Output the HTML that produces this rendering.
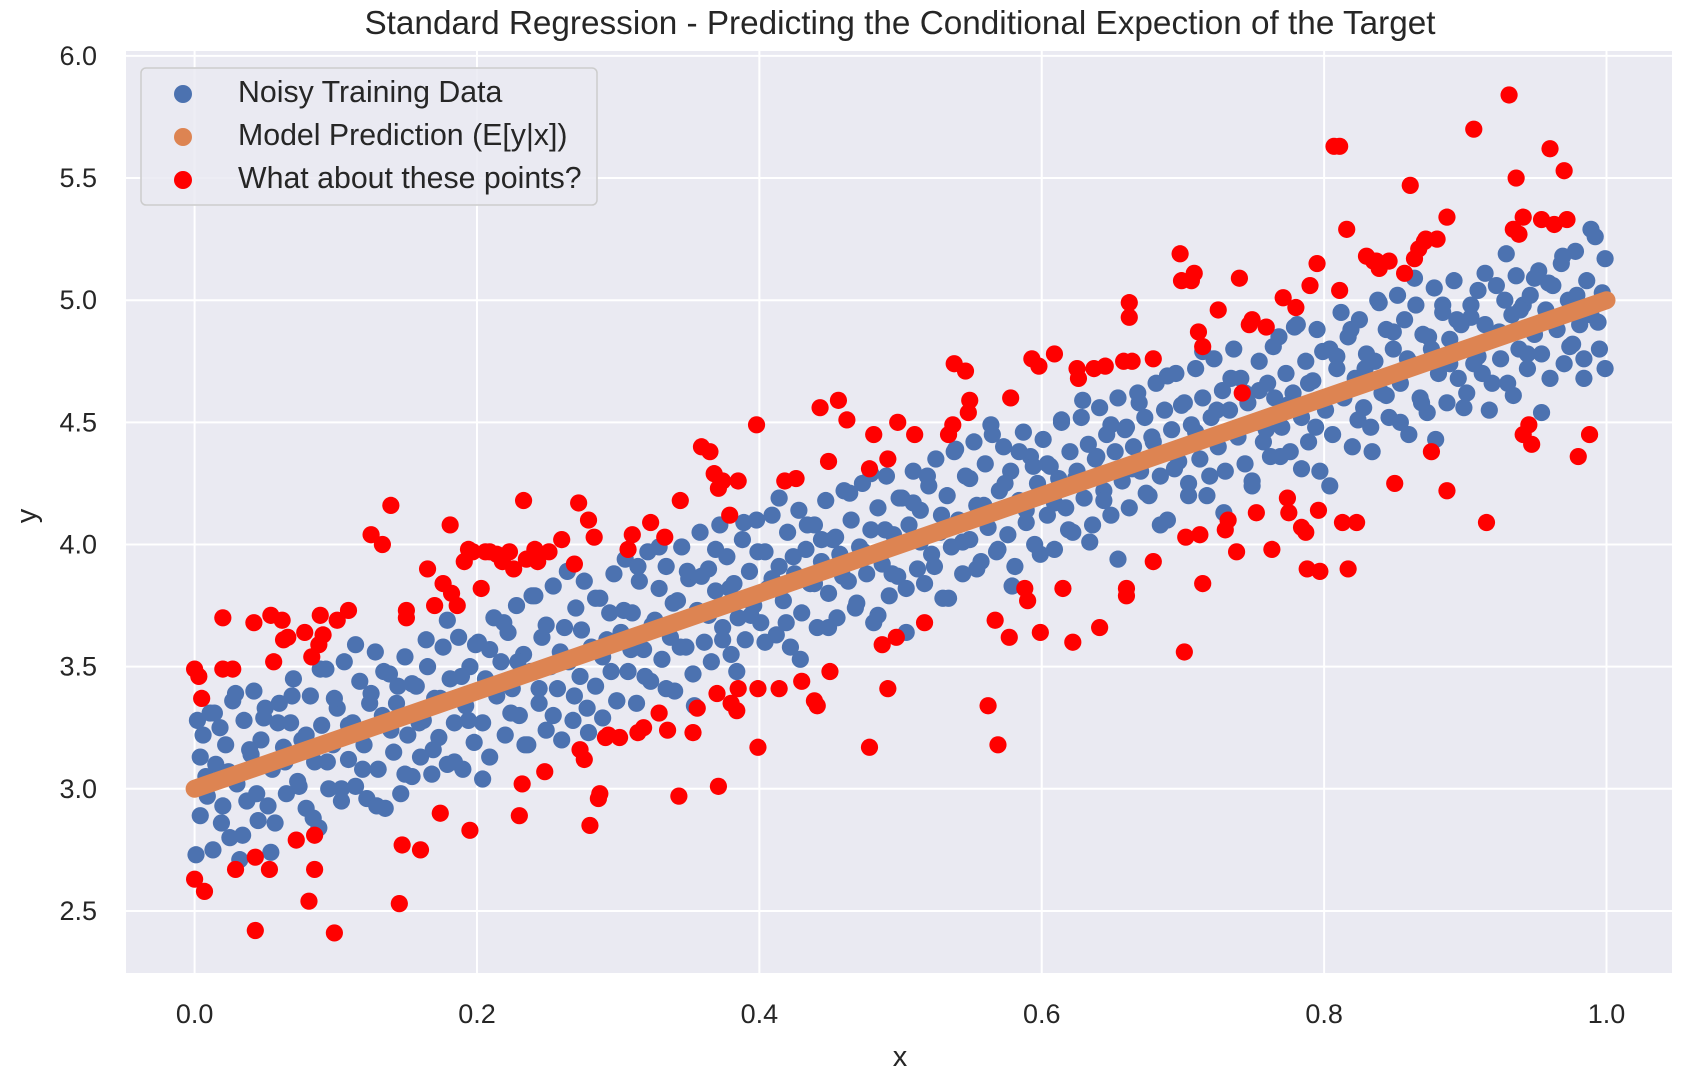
<!DOCTYPE html>
<html><head><meta charset="utf-8"><style>
html,body{margin:0;padding:0;background:#fff;}
svg{display:block;font-family:"Liberation Sans",Arial,sans-serif;}
</style></head><body>
<svg id="chart" width="1686" height="1084" viewBox="0 0 1686 1084" xmlns="http://www.w3.org/2000/svg">
<rect x="126" y="51" width="1546" height="922" fill="#eaeaf2"/>
<g id="grid"></g>
<g id="ticks"></g>
<g id="marks"></g>
<text x="900" y="34" font-size="33.3" text-anchor="middle" fill="#262626">Standard Regression - Predicting the Conditional Expection of the Target</text>
<text x="900" y="1066" font-size="29" text-anchor="middle" fill="#262626">x</text>
<text x="0" y="0" font-size="29" text-anchor="middle" fill="#262626" transform="translate(36,516) rotate(-90)">y</text>
<g>
<rect x="141" y="68" width="456" height="137" rx="5" fill="#eaeaf2" fill-opacity="0.85" stroke="#cccccc" stroke-width="1.5"/>
<circle cx="183" cy="94" r="9" fill="#4c72b0"/>
<text x="238" y="102" font-size="30.3" fill="#262626">Noisy Training Data</text>
<circle cx="183" cy="137" r="9" fill="#dd8452"/>
<text x="238" y="145" font-size="30.3" fill="#262626">Model Prediction (E[y|x])</text>
<circle cx="183" cy="180" r="9" fill="#ff0000"/>
<text x="238" y="188" font-size="30.3" fill="#262626">What about these points?</text>
</g>
</svg>
<script>
const xTicks = [0.0, 0.2, 0.4, 0.6, 0.8, 1.0];
const xTickLabels = ["0.0", "0.2", "0.4", "0.6", "0.8", "1.0"];
const yTicks = [2.5, 3.0, 3.5, 4.0, 4.5, 5.0, 5.5, 6.0];
const yTickLabels = ["2.5", "3.0", "3.5", "4.0", "4.5", "5.0", "5.5", "6.0"];
const modelIntercept = 3.0;
const modelSlope = 2.0;
const predXRange = [0.0, 1.0];
const blue = [[0.001,2.73],[0.002,3.28],[0.004,2.89],[0.006,3.22],[0.008,3.05],[0.011,3.31],[0.013,2.75],[0.015,3.10],[0.018,3.25],[0.020,2.93],[0.022,3.18],[0.025,2.80],[0.027,3.36],[0.030,3.02],[0.032,2.71],[0.035,3.28],[0.037,2.95],[0.040,3.14],[0.042,3.40],[0.045,2.87],[0.047,3.20],[0.050,3.33],[0.052,2.93],[0.055,3.08],[0.057,2.86],[0.060,3.35],[0.063,3.17],[0.065,2.98],[0.068,3.27],[0.070,3.45],[0.073,3.03],[0.076,3.20],[0.079,2.92],[0.082,3.38],[0.085,3.11],[0.088,2.84],[0.090,3.26],[0.093,3.49],[0.095,3.00],[0.098,3.18],
[0.101,3.33],[0.104,2.95],[0.106,3.52],[0.109,3.12],[0.112,3.27],[0.114,3.01],[0.117,3.44],[0.120,3.18],[0.122,2.96],[0.125,3.39],[0.128,3.56],[0.130,3.08],[0.133,3.30],[0.135,2.92],[0.138,3.47],[0.141,3.15],[0.143,3.35],[0.146,2.98],[0.149,3.54],[0.151,3.22],[0.154,3.05],[0.157,3.42],[0.160,3.13],[0.162,3.28],[0.165,3.50],[0.168,3.06],[0.170,3.37],[0.173,3.21],[0.176,3.58],[0.179,3.10],[0.181,3.45],[0.184,3.27],[0.187,3.62],[0.190,3.08],[0.192,3.34],[0.195,3.50],[0.198,3.19],
[0.201,3.60],[0.204,3.27],[0.206,3.45],[0.209,3.13],[0.212,3.70],[0.214,3.38],[0.217,3.52],[0.220,3.22],[0.222,3.64],[0.225,3.41],[0.228,3.75],[0.230,3.30],[0.233,3.55],[0.236,3.18],[0.238,3.48],[0.241,3.79],[0.244,3.35],[0.246,3.62],[0.249,3.24],[0.252,3.50],[0.254,3.83],[0.257,3.41],[0.260,3.20],[0.262,3.66],[0.265,3.52],[0.268,3.28],[0.270,3.74],[0.273,3.46],[0.276,3.85],[0.278,3.33],[0.281,3.58],[0.284,3.42],[0.287,3.78],[0.289,3.29],[0.292,3.61],[0.295,3.48],[0.297,3.88],[0.299,3.36],
[0.302,3.64],[0.305,3.94],[0.307,3.48],[0.310,3.72],[0.313,3.35],[0.315,3.85],[0.318,3.57],[0.321,3.97],[0.323,3.44],[0.326,3.69],[0.329,3.82],[0.331,3.53],[0.334,3.91],[0.337,3.62],[0.340,3.40],[0.342,3.77],[0.345,3.99],[0.348,3.58],[0.350,3.86],[0.353,3.47],[0.356,3.73],[0.358,4.05],[0.361,3.60],[0.364,3.90],[0.366,3.52],[0.369,3.81],[0.372,4.08],[0.374,3.66],[0.377,3.95],[0.380,3.55],[0.382,3.84],[0.385,3.70],[0.388,4.02],[0.390,3.61],[0.393,3.89],[0.396,3.75],[0.398,4.10],
[0.401,3.68],[0.404,3.97],[0.406,3.82],[0.409,4.12],[0.412,3.63],[0.414,3.91],[0.417,3.77],[0.420,4.05],[0.422,3.58],[0.425,3.88],[0.428,4.14],[0.430,3.72],[0.433,3.98],[0.436,3.84],[0.439,4.08],[0.441,3.66],[0.444,3.93],[0.447,4.18],[0.449,3.80],[0.452,4.02],[0.455,3.70],[0.457,3.96],[0.460,4.22],[0.463,3.85],[0.465,4.10],[0.468,3.74],[0.471,3.99],[0.473,4.25],[0.476,3.88],[0.479,4.06],[0.481,3.68],[0.484,4.15],[0.487,3.92],[0.490,4.28],[0.492,3.79],[0.495,4.04],[0.498,3.87],
[0.501,4.19],[0.504,3.82],[0.506,4.08],[0.509,4.30],[0.512,3.90],[0.514,4.14],[0.517,3.84],[0.520,4.24],[0.522,3.96],[0.525,4.35],[0.528,4.05],[0.530,3.78],[0.533,4.20],[0.536,3.99],[0.538,4.38],[0.541,4.10],[0.544,3.88],[0.546,4.28],[0.549,4.02],[0.552,4.42],[0.554,4.16],[0.557,3.93],[0.560,4.33],[0.562,4.07],[0.565,4.45],[0.568,3.97],[0.570,4.22],[0.573,4.40],[0.576,4.04],[0.578,4.30],[0.581,3.91],[0.584,4.18],[0.587,4.46],[0.589,4.09],[0.592,4.36],[0.595,4.00],[0.597,4.25],
[0.601,4.43],[0.604,4.12],[0.606,4.32],[0.609,3.98],[0.612,4.27],[0.614,4.50],[0.617,4.15],[0.620,4.38],[0.622,4.05],[0.625,4.30],[0.628,4.52],[0.630,4.19],[0.633,4.41],[0.636,4.08],[0.638,4.35],[0.641,4.56],[0.644,4.22],[0.646,4.45],[0.649,4.12],[0.652,4.38],[0.654,4.60],[0.657,4.26],[0.660,4.48],[0.662,4.15],[0.665,4.40],[0.668,4.62],[0.670,4.30],[0.673,4.52],[0.676,4.20],[0.678,4.44],[0.681,4.66],[0.684,4.28],[0.687,4.55],[0.689,4.10],[0.692,4.47],[0.695,4.70],[0.697,4.34],
[0.701,4.58],[0.704,4.25],[0.706,4.49],[0.709,4.72],[0.712,4.35],[0.714,4.60],[0.717,4.20],[0.720,4.52],[0.722,4.76],[0.725,4.40],[0.728,4.63],[0.730,4.30],[0.733,4.55],[0.736,4.80],[0.738,4.45],[0.741,4.68],[0.744,4.33],[0.746,4.58],[0.749,4.24],[0.752,4.50],[0.754,4.75],[0.757,4.42],[0.760,4.66],[0.762,4.36],[0.765,4.60],[0.768,4.85],[0.770,4.48],[0.773,4.70],[0.776,4.38],[0.778,4.62],[0.781,4.90],[0.784,4.52],[0.787,4.75],[0.789,4.42],[0.792,4.67],[0.795,4.88],[0.797,4.30],
[0.801,4.55],[0.804,4.80],[0.806,4.45],[0.809,4.72],[0.812,4.95],[0.814,4.60],[0.817,4.85],[0.820,4.40],[0.822,4.68],[0.825,4.92],[0.828,4.56],[0.830,4.78],[0.833,4.48],[0.836,4.75],[0.838,5.00],[0.841,4.62],[0.844,4.88],[0.846,4.52],[0.849,4.80],[0.852,5.02],[0.854,4.66],[0.857,4.92],[0.860,4.45],[0.862,4.74],[0.865,4.98],[0.868,4.60],[0.870,4.86],[0.873,4.54],[0.876,4.80],[0.878,5.05],[0.881,4.70],[0.884,4.95],[0.887,4.58],[0.889,4.84],[0.892,5.08],[0.895,4.68],[0.897,4.90],
[0.901,4.62],[0.904,4.98],[0.906,4.74],[0.909,5.04],[0.912,4.70],[0.914,4.90],[0.917,4.55],[0.920,4.84],[0.922,5.06],[0.925,4.76],[0.928,5.00],[0.930,4.66],[0.933,4.94],[0.936,5.10],[0.938,4.80],[0.941,4.98],[0.944,4.72],[0.946,5.02],[0.949,4.86],[0.952,5.12],[0.954,4.78],[0.957,4.96],[0.960,4.68],[0.962,5.06],[0.965,4.88],[0.968,5.15],[0.970,4.74],[0.973,5.00],[0.976,4.82],[0.978,5.20],[0.981,4.90],[0.984,4.76],[0.986,5.08],[0.989,4.94],[0.992,5.26],[0.995,4.80],[0.997,5.03],[0.999,4.72]];
const blue2X = [0.004,0.009,0.014,0.019,0.024,0.029,0.034,0.039,0.044,0.049,0.054,0.059,0.064,0.069,0.074,0.079,0.084,0.089,0.094,0.099,0.104,0.109,0.114,0.119,0.124,0.129,0.134,0.139,0.144,0.149,
0.154,0.159,0.164,0.169,0.174,0.179,0.184,0.189,0.194,0.199,0.204,0.209,0.214,0.219,0.224,0.229,0.234,0.239,0.244,0.249,0.254,0.259,0.264,0.269,0.274,0.279,0.284,0.289,0.294,0.299,
0.304,0.309,0.314,0.319,0.324,0.329,0.334,0.339,0.344,0.349,0.354,0.359,0.364,0.369,0.374,0.379,0.384,0.389,0.394,0.399,0.404,0.409,0.414,0.419,0.424,0.429,0.434,0.439,0.444,0.449,
0.454,0.459,0.464,0.469,0.474,0.479,0.484,0.489,0.494,0.499,0.504,0.509,0.514,0.519,0.524,0.529,0.534,0.539,0.544,0.549,0.554,0.559,0.564,0.569,0.574,0.579,0.584,0.589,0.594,0.599,
0.604,0.609,0.614,0.619,0.624,0.629,0.634,0.639,0.644,0.649,0.654,0.659,0.664,0.669,0.674,0.679,0.684,0.689,0.694,0.699,0.704,0.709,0.714,0.719,0.724,0.729,0.734,0.739,0.744,0.749,
0.754,0.759,0.764,0.769,0.774,0.779,0.784,0.789,0.794,0.799,0.804,0.809,0.814,0.819,0.824,0.829,0.834,0.839,0.844,0.849,0.854,0.859,0.864,0.869,0.874,0.879,0.884,0.889,0.894,0.899,
0.904,0.909,0.914,0.919,0.924,0.929,0.934,0.939,0.944,0.949,0.954,0.959,0.964,0.969,0.974,0.979,0.984,0.989,0.994,0.999];
const blue2Y = [3.13,2.97,3.31,2.86,3.07,3.39,2.81,3.16,2.98,3.29,2.74,3.27,3.11,3.38,3.01,3.22,2.88,3.49,3.11,3.37,3.00,3.26,3.59,3.08,3.35,2.93,3.48,3.24,3.42,3.06,
3.43,3.27,3.61,3.16,3.37,3.69,3.11,3.46,3.28,3.59,3.04,3.57,3.41,3.68,3.31,3.52,3.18,3.79,3.41,3.67,3.30,3.56,3.89,3.38,3.65,3.23,3.78,3.54,3.72,3.36,
3.73,3.57,3.91,3.46,3.67,3.99,3.41,3.76,3.58,3.89,3.34,3.87,3.71,3.98,3.61,3.82,3.48,4.09,3.71,3.97,3.60,3.86,4.19,3.68,3.95,3.53,4.08,3.84,4.02,3.66,
4.03,3.87,4.21,3.76,3.97,4.29,3.71,4.06,3.88,4.19,3.64,4.17,4.01,4.28,3.91,4.12,3.78,4.39,4.01,4.27,3.90,4.16,4.49,3.98,4.25,3.83,4.38,4.14,4.32,3.96,
4.33,4.17,4.51,4.06,4.27,4.59,4.01,4.36,4.18,4.49,3.94,4.47,4.31,4.58,4.21,4.42,4.08,4.69,4.31,4.57,4.20,4.46,4.79,4.28,4.55,4.13,4.68,4.44,4.62,4.26,
4.63,4.47,4.81,4.36,4.57,4.89,4.31,4.66,4.48,4.79,4.24,4.77,4.61,4.88,4.51,4.72,4.38,4.99,4.61,4.87,4.50,4.76,5.09,4.58,4.85,4.43,4.98,4.74,4.92,4.56,
4.93,4.77,5.11,4.66,4.87,5.19,4.61,4.96,4.78,5.09,4.54,5.07,4.91,5.18,4.81,5.02,4.68,5.29,4.91,5.17];
const red = [[0,3.49],[0.003,3.46],[0.005,3.37],[0,2.63],[0.007,2.58],[0.020,3.70],[0.020,3.49],[0.027,3.49],[0.029,2.67],[0.042,3.68],[0.043,2.72],[0.043,2.42],[0.053,2.67],[0.054,3.71],[0.056,3.52],[0.062,3.69],[0.063,3.61],[0.066,3.62],[0.072,2.79],[0.078,3.64],[0.081,2.54],[0.085,2.67],[0.085,2.81],[0.083,3.54],[0.088,3.59],[0.089,3.71],[0.091,3.63],[0.099,2.41],[0.101,3.69],[0.109,3.73],[0.125,4.04],[0.133,4.00],[0.139,4.16],[0.145,2.53],[0.147,2.77],[0.150,3.70],[0.150,3.73],[0.160,2.75],[0.165,3.90],[0.170,3.75],[0.174,2.90],[0.176,3.84],[0.181,4.08],[0.182,3.80],[0.186,3.75],[0.191,3.93],[0.194,3.98],[0.195,2.83],[0.197,3.97],[0.203,3.82],[0.206,3.97],[0.209,3.97],[0.214,3.96],[0.218,3.93],[0.223,3.97],[0.226,3.90],[0.230,2.89],[0.232,3.02],[0.233,4.18],[0.235,3.94],[0.241,3.98],[0.243,3.93],[0.248,3.07],[0.251,3.97],[0.260,4.02],[0.269,3.92],[0.272,4.17],[0.273,3.16],[0.276,3.12],[0.279,4.10],[0.280,2.85],[0.283,4.03],[0.286,2.96],[0.287,2.98],[0.291,3.21],[0.293,3.22],[0.301,3.21],[0.307,3.98],[0.310,4.04],[0.314,3.23],[0.318,3.25],[0.323,4.09],[0.329,3.31],[0.333,4.03],[0.335,3.24],[0.343,2.97],[0.344,4.18],[0.353,3.23],[0.356,3.33],[0.359,4.40],[0.365,4.38],[0.368,4.29],[0.370,3.39],[0.371,3.01],[0.371,4.23],[0.374,4.26],[0.379,4.12],[0.380,3.35],[0.384,3.32],[0.385,3.41],[0.385,4.26],[0.398,4.49],[0.399,3.41],[0.399,3.17],[0.414,3.41],[0.418,4.26],[0.426,4.27],[0.430,3.44],[0.439,3.36],[0.441,3.34],[0.443,4.56],[0.449,4.34],[0.450,3.48],[0.456,4.59],[0.462,4.51],[0.478,4.31],[0.478,3.17],[0.481,4.45],[0.487,3.59],[0.491,4.35],[0.491,3.41],[0.497,3.62],[0.498,4.50],[0.510,4.45],[0.517,3.68],[0.534,4.45],[0.537,4.49],[0.538,4.74],[0.546,4.71],[0.548,4.54],[0.549,4.59],[0.562,3.34],[0.567,3.69],[0.569,3.18],[0.577,3.62],[0.578,4.60],[0.588,3.82],[0.590,3.77],[0.593,4.76],[0.598,4.73],[0.599,3.64],[0.609,4.78],[0.615,3.82],[0.622,3.60],[0.625,4.72],[0.626,4.68],[0.637,4.72],[0.641,3.66],[0.645,4.73],[0.658,4.75],[0.660,3.79],[0.660,3.82],[0.662,4.99],[0.662,4.93],[0.664,4.75],[0.679,3.93],[0.679,4.76],[0.698,5.19],[0.699,5.08],[0.701,3.56],[0.702,4.03],[0.706,5.08],[0.708,5.11],[0.711,4.87],[0.714,4.81],[0.712,4.04],[0.714,3.84],[0.725,4.96],[0.730,4.06],[0.732,4.10],[0.740,5.09],[0.738,3.97],[0.742,4.62],[0.747,4.90],[0.749,4.92],[0.752,4.13],[0.759,4.89],[0.763,3.98],[0.771,5.01],[0.774,4.19],[0.775,4.13],[0.780,4.97],[0.784,4.07],[0.787,4.05],[0.788,3.90],[0.790,5.06],[0.795,5.15],[0.797,3.89],[0.796,4.14],[0.807,5.63],[0.811,5.63],[0.811,5.04],[0.813,4.09],[0.816,5.29],[0.817,3.90],[0.823,4.09],[0.830,5.18],[0.835,5.16],[0.837,5.16],[0.839,5.13],[0.846,5.16],[0.850,4.25],[0.857,5.11],[0.861,5.47],[0.864,5.17],[0.867,5.21],[0.871,5.24],[0.872,5.25],[0.876,4.38],[0.880,5.25],[0.887,5.34],[0.887,4.22],[0.931,5.84],[0.906,5.70],[0.915,4.09],[0.934,5.29],[0.936,5.50],[0.938,5.27],[0.941,4.45],[0.941,5.34],[0.945,4.49],[0.947,4.41],[0.954,5.33],[0.960,5.62],[0.963,5.31],[0.970,5.53],[0.972,5.33],[0.980,4.36],[0.988,4.45]];

const NS = "http://www.w3.org/2000/svg";
const PL = 126, PR = 1672, PT = 51, PB = 973;
function sx(v){ return 194.6 + v * 1411.9; }
function sy(v){ return 55.9 + (6.0 - v) * 244.3; }
function mk(tag, attrs, parent){
  const el = document.createElementNS(NS, tag);
  for (const k in attrs) el.setAttribute(k, attrs[k]);
  parent.appendChild(el);
  return el;
}
const grid = document.getElementById('grid');
const ticks = document.getElementById('ticks');
const marks = document.getElementById('marks');
xTicks.forEach((t, i) => {
  const l = mk('line', {x1: sx(t), x2: sx(t), y1: PT, y2: PB, stroke: '#fff', 'stroke-width': 2}, grid);
  
  
  const tx = mk('text', {x: sx(t), y: 1023, 'font-size': 27, 'text-anchor': 'middle', fill: '#262626'}, ticks);
  tx.textContent = xTickLabels[i];
  
  
});
yTicks.forEach((t, i) => {
  const l = mk('line', {x1: PL, x2: PR, y1: sy(t), y2: sy(t), stroke: '#fff', 'stroke-width': 2}, grid);
  
  
  const tx = mk('text', {x: 97, y: sy(t) + 9, 'font-size': 27, 'text-anchor': 'end', fill: '#262626'}, ticks);
  tx.textContent = yTickLabels[i];
  
  
});
blue.forEach(p => {
  const c = mk('circle', {cx: sx(p[0]), cy: sy(p[1]), r: 8.6, fill: '#4c72b0'}, marks);
  
  
});
blue2X.forEach((xv, i) => {
  const c = mk('circle', {cx: sx(xv), cy: sy(blue2Y[i]), r: 8.6, fill: '#4c72b0'}, marks);
  
  
});
const pl = mk('line', {x1: sx(predXRange[0]), y1: sy(modelIntercept + modelSlope * predXRange[0]), x2: sx(predXRange[1]), y2: sy(modelIntercept + modelSlope * predXRange[1]), stroke: '#dd8452', 'stroke-width': 18, 'stroke-linecap': 'round'}, marks);


red.forEach(p => {
  const c = mk('circle', {cx: sx(p[0]), cy: sy(p[1]), r: 8.6, fill: '#ff0000'}, marks);
  
  
});
</script>
</body></html>
